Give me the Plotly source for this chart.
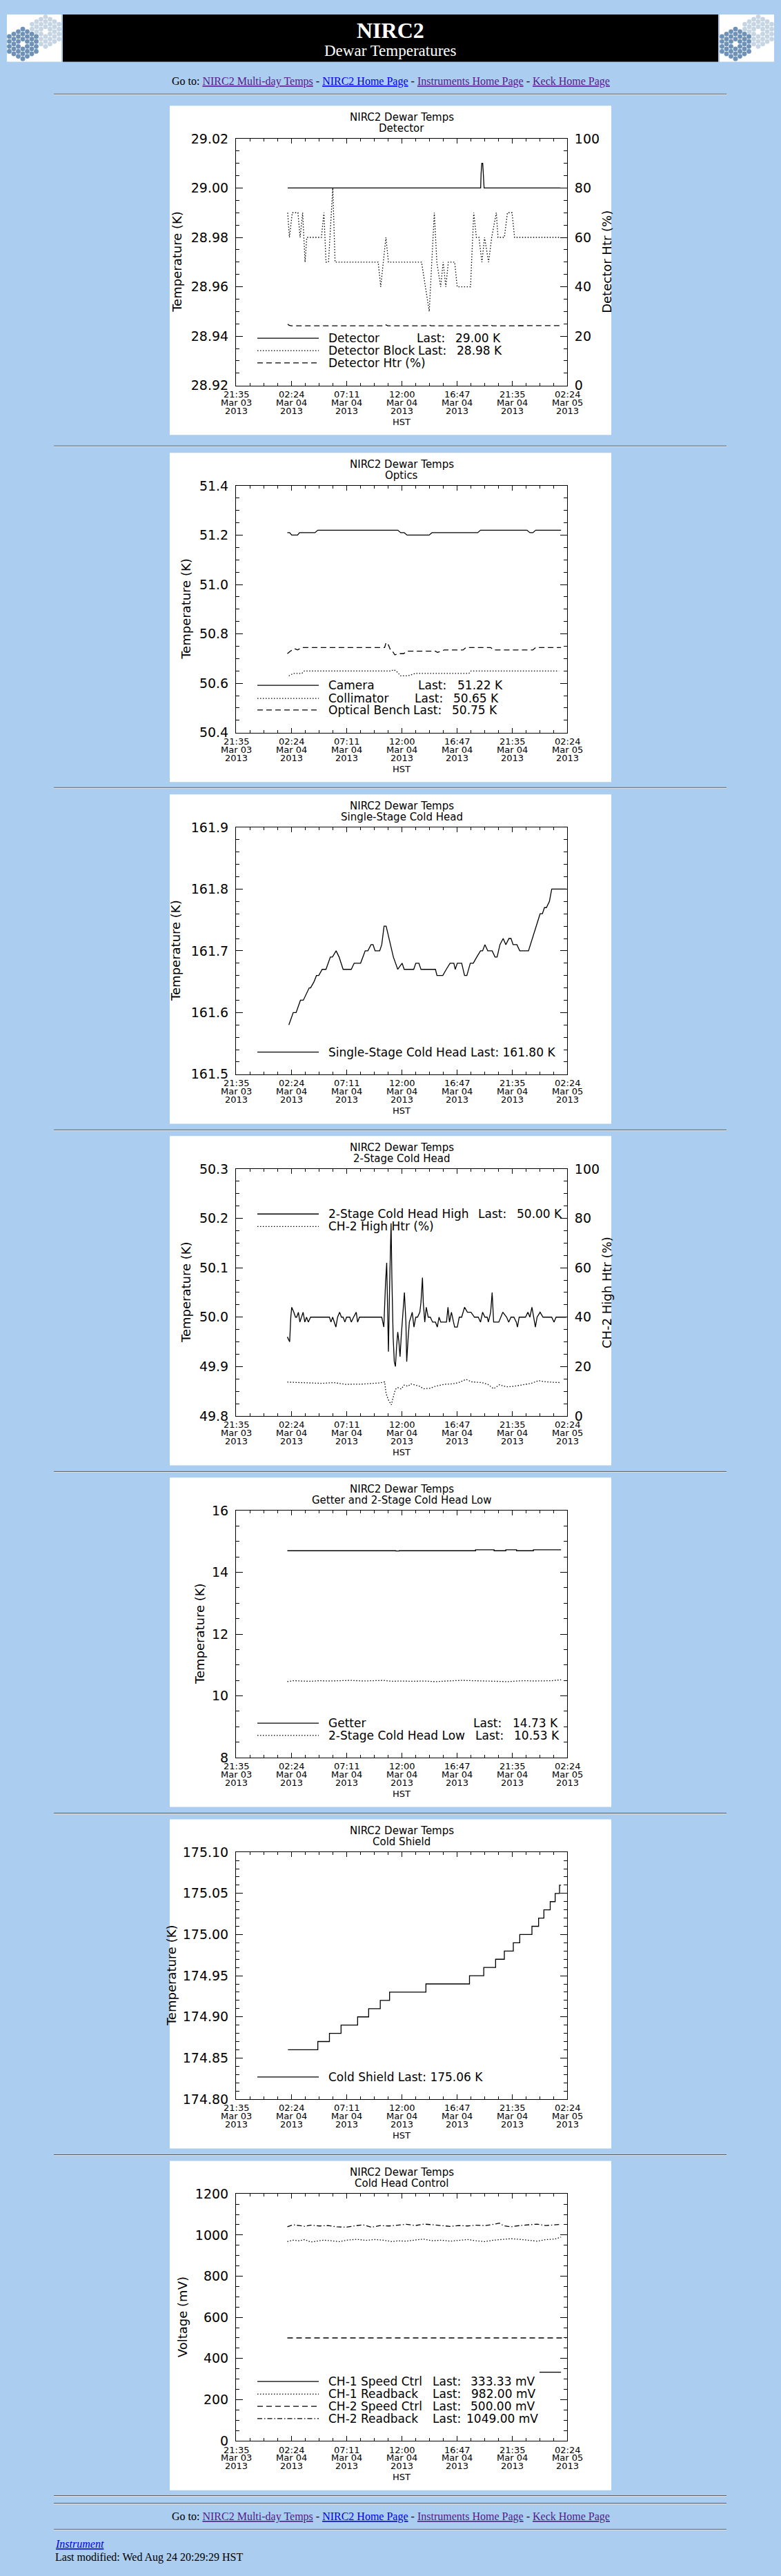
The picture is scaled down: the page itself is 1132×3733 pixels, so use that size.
import pandas as pd
import plotly.graph_objects as go

W, H = 1132, 3733
BG = "#abcdef"
SANS = "DejaVu Sans"
SERIF = "Liberation Serif"

# time axis: all series are hours counted from 21:36 HST, Mar 03 2013
START = "2013-03-03 21:36"
END = "2013-03-05 02:24"
MINOR_MS = 1.2 * 3600 * 1000

tick_times = ["2013-03-03 21:36", "2013-03-04 02:24", "2013-03-04 07:12", "2013-03-04 12:00",
              "2013-03-04 16:48", "2013-03-04 21:36", "2013-03-05 02:24"]
tick_clock = ["21:35", "02:24", "07:11", "12:00", "16:47", "21:35", "02:24"]
tick_day = ["Mar 03", "Mar 04", "Mar 04", "Mar 04", "Mar 04", "Mar 04", "Mar 05"]
tick_year = ["2013"] * 7

# --- Detector
det_hours = [4.50, 21.28, 21.32, 21.38, 21.46, 21.52, 21.58, 28.20]
det_temp = [29.000, 29.000, 29.006, 29.010, 29.010, 29.006, 29.000, 29.000]
blk_hours = [4.50, 4.65, 4.90, 5.39, 5.58, 5.80, 6.01, 6.16, 7.43, 7.65, 7.83, 8.05, 8.42, 8.62,
             12.37, 12.59, 13.04, 13.26, 16.14, 16.47, 16.81, 17.25, 17.47, 17.80, 18.02, 18.25,
             18.47, 19.02, 19.24, 20.40, 20.68, 20.91, 21.13, 21.39, 21.62, 21.97, 22.24, 22.64,
             22.79, 23.34, 23.61, 24.01, 24.23, 28.20]
blk_temp = [28.99, 28.98, 28.99, 28.99, 28.98, 28.99, 28.97, 28.98, 28.98, 28.99, 28.97, 28.97, 29.00, 28.97,
            28.97, 28.96, 28.98, 28.97, 28.97, 28.96, 28.95, 28.99, 28.97, 28.96, 28.97, 28.96,
            28.97, 28.97, 28.96, 28.96, 28.99, 28.98, 28.98, 28.97, 28.98, 28.97, 28.98, 28.99,
            28.98, 28.98, 28.99, 28.99, 28.98, 28.98]
htr_hours = [4.50, 4.62, 4.80, 12.95, 13.05, 13.20, 16.70, 16.80, 16.95, 21.20, 21.35, 21.50,
             22.00, 22.15, 22.30, 28.20]
htr_pct = [24.9, 24.4, 24.2, 24.2, 24.6, 24.2, 24.2, 24.6, 24.2, 24.2, 24.7, 24.3, 24.3, 24.6, 24.2, 24.3]

# --- Optics
cam_hours = [4.47, 4.67, 4.85, 5.36, 5.53, 6.87, 7.12, 14.07, 14.33, 14.63, 14.88, 16.80, 17.05,
             21.02, 21.27, 25.31, 25.56, 25.82, 26.07, 28.27]
cam_temp = [51.21, 51.21, 51.20, 51.20, 51.21, 51.21, 51.22, 51.22, 51.21, 51.21, 51.20, 51.20, 51.21,
            51.21, 51.22, 51.22, 51.21, 51.21, 51.22, 51.22]
col_hours = [4.60, 4.98, 5.73, 5.94, 13.51, 13.69, 13.94, 14.32, 14.95, 15.59, 20.26, 20.44, 28.09]
col_temp = [50.63, 50.64, 50.64, 50.65, 50.65, 50.655, 50.65, 50.63, 50.63, 50.64, 50.64, 50.65, 50.65]
ob_hours = [4.47, 4.72, 5.10, 5.36, 5.73, 12.93, 13.06, 13.26, 13.44, 13.61, 13.82, 14.07, 14.58,
            14.83, 17.35, 17.53, 18.11, 19.75, 20.01, 22.15, 22.41, 25.82, 26.07, 28.27]
ob_temp = [50.72, 50.73, 50.74, 50.735, 50.745, 50.745, 50.765, 50.755, 50.735, 50.73, 50.715, 50.72,
           50.72, 50.73, 50.73, 50.725, 50.735, 50.735, 50.745, 50.745, 50.735, 50.735, 50.745, 50.745]

# --- Single-stage cold head
ss_hours = [4.60, 4.98, 5.23, 5.61, 5.86, 6.11, 6.37, 6.49, 6.79, 7.00,
            7.20, 7.50, 7.83, 8.21, 8.39, 8.71, 8.97, 9.32, 10.03, 10.28,
            10.84, 11.24, 11.47, 11.75, 11.92, 12.10, 12.50, 12.68, 12.88, 13.06,
            13.31, 13.69, 14.07, 14.45, 14.63, 15.46, 15.64, 15.91, 16.09, 17.35,
            17.48, 17.99, 18.29, 18.62, 18.95, 19.07, 19.25, 19.63, 19.88, 20.08,
            20.38, 20.64, 20.94, 21.27, 21.45, 21.65, 21.90, 22.28, 22.53, 22.71,
            22.96, 23.24, 23.47, 23.74, 23.92, 24.10, 24.43, 24.68, 25.44, 25.77,
            26.14, 26.45, 26.65, 26.83, 27.00, 27.26, 27.46, 28.22, 28.72]
ss_temp = [161.58, 161.60, 161.60, 161.62, 161.62, 161.63, 161.64, 161.64, 161.65, 161.66,
           161.66, 161.67, 161.67, 161.69, 161.69, 161.70, 161.69, 161.67, 161.67, 161.68,
           161.68, 161.70, 161.70, 161.71, 161.71, 161.70, 161.70, 161.71, 161.74, 161.74,
           161.72, 161.69, 161.67, 161.68, 161.67, 161.67, 161.68, 161.68, 161.67, 161.67,
           161.66, 161.66, 161.67, 161.68, 161.68, 161.67, 161.68, 161.68, 161.66, 161.66,
           161.68, 161.68, 161.69, 161.70, 161.70, 161.71, 161.70, 161.70, 161.69, 161.69,
           161.71, 161.72, 161.71, 161.72, 161.72, 161.71, 161.71, 161.70, 161.70, 161.72,
           161.74, 161.76, 161.76, 161.77, 161.77, 161.78, 161.80, 161.80, 161.80]

# --- 2-stage cold head
ch2_hours = [4.47, 4.67, 4.77, 4.85, 5.03, 5.18, 5.28, 5.43, 5.56, 5.68,
             5.84, 5.99, 6.14, 6.29, 6.49, 8.13, 8.26, 8.41, 8.56, 8.69,
             8.84, 9.02, 9.17, 9.32, 9.47, 9.62, 9.90, 10.03, 10.23, 10.46,
             10.58, 10.74, 12.68, 12.86, 13.01, 13.11, 13.21, 13.26, 13.36, 13.49,
             13.56, 13.67, 13.77, 13.87, 13.97, 14.07, 14.17, 14.27, 14.37, 14.52,
             14.65, 14.78, 14.85, 14.98, 15.08, 15.21, 15.33, 15.48, 15.64, 15.79,
             15.99, 16.09, 16.22, 16.29, 16.42, 16.55, 16.72, 16.90, 17.10, 17.35,
             17.51, 17.66, 17.81, 18.31, 18.44, 18.57, 18.74, 18.92, 19.02, 19.25,
             19.42, 19.63, 19.88, 20.13, 20.44, 20.74, 21.07, 21.27, 21.45, 21.65,
             21.85, 21.95, 22.15, 22.28, 22.41, 22.86, 23.21, 23.54, 23.72, 23.92,
             24.17, 24.38, 24.48, 24.63, 25.18, 25.39, 25.56, 25.74, 25.89, 26.04,
             26.19, 26.45, 26.70, 27.46, 27.66, 27.84, 28.22, 28.72]
ch2_temp = [49.96, 49.95, 50.00, 50.02, 50.01, 50.00, 50.00, 50.01, 49.99, 50.00,
            50.01, 49.99, 50.00, 49.99, 50.00, 50.00, 49.99, 50.00, 49.99, 49.98,
            50.00, 50.01, 50.00, 50.00, 49.99, 50.00, 50.00, 49.99, 50.00, 50.01,
            49.99, 50.00, 50.00, 49.98, 50.07, 50.11, 49.99, 49.93, 50.06, 50.19,
            50.08, 49.96, 49.91, 49.90, 49.94, 49.97, 49.95, 49.92, 49.96, 50.01,
            50.05, 49.99, 49.91, 49.96, 49.99, 50.00, 50.01, 49.98, 50.00, 50.00,
            50.01, 50.03, 50.08, 50.03, 49.99, 50.02, 50.00, 50.00, 49.99, 49.99,
            49.98, 50.00, 49.99, 49.99, 50.02, 49.99, 50.01, 49.99, 49.98, 49.98,
            50.00, 50.00, 50.02, 50.01, 50.01, 50.00, 50.00, 49.99, 50.01, 50.00,
            50.00, 49.99, 50.01, 50.05, 49.99, 49.99, 50.01, 50.00, 49.99, 50.00,
            50.00, 49.99, 49.98, 50.00, 50.00, 50.01, 50.00, 50.02, 50.00, 49.98,
            50.00, 50.01, 50.00, 50.00, 49.99, 50.00, 50.00, 50.00]
ch2htr_hours = [4.47, 5.48, 6.49, 7.50, 8.51, 9.52, 11.04, 12.55, 12.93, 13.06, 13.26, 13.51, 13.67,
                13.87, 14.07, 14.37, 14.63, 14.95, 15.21, 15.59, 15.97, 16.34, 16.85, 17.35, 18.11,
                18.87, 19.37, 20.01, 20.51, 21.40, 21.90, 22.41, 22.91, 23.54, 24.17, 24.93, 25.69,
                26.32, 26.95, 28.22]
ch2htr_pct = [13.7, 13.6, 13.3, 13.2, 13.5, 12.8, 12.9, 13.4, 13.8, 9.0, 6.5, 4.5, 7.5,
              10.8, 11.5, 10.9, 12.5, 12.0, 13.0, 12.5, 12.0, 11.0, 11.2, 12.0, 12.8,
              13.0, 13.5, 14.8, 13.8, 13.5, 12.8, 11.0, 12.6, 11.8, 12.0, 12.6, 13.2,
              14.3, 13.8, 13.5]

# --- Getter and 2-stage low
getter_hours = [4.47, 13.90, 14.20, 20.84, 22.45, 23.47, 24.40, 25.87, 28.27]
getter_temp = [14.70, 14.69, 14.70, 14.73, 14.70, 14.73, 14.70, 14.73, 14.73]
chlow_hours = [4.47, 4.98, 5.73, 6.49, 7.25, 8.01, 9.02, 10.03, 11.04, 12.05, 12.81, 13.56, 14.32,
               15.33, 16.34, 17.35, 18.11, 18.87, 19.63, 20.38, 21.14, 21.90, 22.91, 23.67, 24.43,
               25.18, 25.94, 26.70, 27.46, 28.27]
chlow_temp = [10.46, 10.49, 10.48, 10.47, 10.49, 10.48, 10.49, 10.50, 10.48, 10.49, 10.50, 10.47, 10.48,
              10.47, 10.48, 10.46, 10.48, 10.49, 10.50, 10.49, 10.48, 10.47, 10.47, 10.46, 10.48,
              10.49, 10.48, 10.48, 10.49, 10.52]

# --- Cold shield (step starts)
shield_hours = [4.52, 7.12, 8.13, 9.14, 10.58, 11.54, 12.55, 13.36, 16.52, 20.31, 21.55, 22.58,
                23.34, 24.12, 24.68, 25.74, 26.32, 26.78, 27.33, 27.76, 28.14, 28.27]
shield_temp = [174.86, 174.87, 174.88, 174.89, 174.90, 174.91, 174.92, 174.93, 174.94, 174.95,
               174.96, 174.97, 174.98, 174.99, 175.00, 175.01, 175.02, 175.03, 175.04, 175.05,
               175.06, 175.06]

# --- Cold head control
ch1ctrl_hours = [26.40, 28.27]
ch1ctrl_mv = [333.33, 333.33]
ch2ctrl_hours = [4.47, 28.72]
ch2ctrl_mv = [500.0, 500.0]
ch1rb_hours = [4.47, 4.98, 5.48, 5.99, 6.49, 7.00, 7.63, 8.26, 9.02, 9.78, 10.53, 11.29, 12.05,
               12.81, 13.56, 14.07, 14.83, 15.59, 16.34, 17.10, 17.86, 18.62, 19.37, 20.13, 20.89,
               21.65, 22.41, 23.16, 23.92, 24.68, 25.44, 26.19, 26.95, 27.71, 28.27]
ch1rb_mv = [968, 975, 972, 978, 966, 970, 975, 972, 968, 976, 979, 974, 978,
            975, 968, 972, 970, 976, 980, 972, 975, 970, 973, 978, 972,
            968, 975, 978, 982, 979, 975, 970, 978, 980, 990]
ch2rb_hours = [4.47, 4.98, 5.48, 5.99, 6.49, 7.25, 8.01, 8.77, 9.52, 10.28, 11.04, 11.80, 12.55,
               13.31, 14.07, 14.83, 15.59, 16.34, 17.10, 17.86, 18.62, 19.37, 20.13, 20.89, 21.65,
               22.41, 22.91, 23.29, 23.92, 24.68, 25.44, 26.19, 26.95, 27.71, 28.27]
ch2rb_mv = [1040, 1050, 1046, 1042, 1048, 1044, 1046, 1040, 1038, 1045, 1050, 1038, 1046,
            1044, 1048, 1052, 1046, 1053, 1050, 1046, 1042, 1046, 1044, 1048, 1046,
            1052, 1058, 1045, 1040, 1046, 1050, 1053, 1046, 1048, 1052]

goto_links = ["NIRC2 Multi-day Temps", "NIRC2 Home Page", "Instruments Home Page", "Keck Home Page"]
goto_colors = ["#551a8b", "#0000ee", "#551a8b", "#551a8b"]

# page geometry (px)
PANEL_TOP = [143, 649, 1147, 1645, 2143, 2641, 3139]
HR_ROWS = [126, 639, 1137, 1636, 2134, 2632, 3130, 3627, 3638, 3676]
PLOT_L, PLOT_R = 342, 822
LEG_SIZE = 17

DOT = "1.5px,2.5px"
DASH = "8px,5px"
DASHDOT = "7px,3px,1.5px,3px"


def px_x(v):
    return v / W


def px_y(v):
    return 1 - v / H


def when(hours):
    t0 = pd.Timestamp(START)
    return [t0 + pd.Timedelta(hours=h) for h in hours]


panels = [
    dict(sub="Detector", yr=(28.92, 29.02), dt=0.02, mn=0.005, fmt=".2f",
         ytitle="Temperature (K)", tx=257, right=("Detector Htr (%)", 880),
         lines=[(det_hours, det_temp, "solid", False, "linear"),
                (blk_hours, blk_temp, DOT, False, "linear"),
                (htr_hours, htr_pct, DASH, True, "linear")],
         legend=[("solid", "Detector", "29.00 K", 602, 658, 339),
                 (DOT, "Detector Block", "28.98 K", 604, 660, 357),
                 (DASH, "Detector Htr (%)", None, 0, 0, 375)]),
    dict(sub="Optics", yr=(50.4, 51.4), dt=0.2, mn=0.05, fmt=".1f",
         ytitle="Temperature (K)", tx=270, right=None,
         lines=[(cam_hours, cam_temp, "solid", False, "linear"),
                (col_hours, col_temp, DOT, False, "linear"),
                (ob_hours, ob_temp, DASH, False, "linear")],
         legend=[("solid", "Camera", "51.22 K", 604, 661, 339),
                 (DOT, "Collimator", "50.65 K", 599, 655, 358),
                 (DASH, "Optical Bench", "50.75 K", 597, 653, 375)]),
    dict(sub="Single-Stage Cold Head", yr=(161.5, 161.9), dt=0.1, mn=0.02, fmt=".1f",
         ytitle="Temperature (K)", tx=255, right=None,
         lines=[(ss_hours, ss_temp, "solid", False, "linear")],
         legend=[("solid", "Single-Stage Cold Head Last: 161.80 K", None, 0, 0, 375.5)]),
    dict(sub="2-Stage Cold Head", yr=(49.8, 50.3), dt=0.1, mn=0.025, fmt=".1f",
         ytitle="Temperature (K)", tx=270, right=("CH-2 High Htr (%)", 880),
         lines=[(ch2_hours, ch2_temp, "solid", False, "linear"),
                (ch2htr_hours, ch2htr_pct, DOT, True, "linear")],
         legend=[("solid", "2-Stage Cold Head High", "50.00 K", 691, 747, 113.6),
                 (DOT, "CH-2 High Htr (%)", None, 0, 0, 131.9)]),
    dict(sub="Getter and 2-Stage Cold Head Low", yr=(8, 16), dt=2, mn=0.5, fmt="d",
         ytitle="Temperature (K)", tx=289, right=None,
         lines=[(getter_hours, getter_temp, "solid", False, "hv"),
                (chlow_hours, chlow_temp, DOT, False, "linear")],
         legend=[("solid", "Getter", "14.73 K", 684, 741, 357.8),
                 (DOT, "2-Stage Cold Head Low", "10.53 K", 687, 743, 375.7)]),
    dict(sub="Cold Shield", yr=(174.8, 175.1), dt=0.05, mn=0.01, fmt=".2f",
         ytitle="Temperature (K)", tx=248, right=None,
         lines=[(shield_hours, shield_temp, "solid", False, "hv")],
         legend=[("solid", "Cold Shield Last: 175.06 K", None, 0, 0, 375.7)]),
    dict(sub="Cold Head Control", yr=(0, 1200), dt=200, mn=50, fmt="d",
         ytitle="Voltage (mV)", tx=264, right=None,
         lines=[(ch1ctrl_hours, ch1ctrl_mv, "solid", False, "linear"),
                (ch1rb_hours, ch1rb_mv, DOT, False, "linear"),
                (ch2ctrl_hours, ch2ctrl_mv, DASH, False, "linear"),
                (ch2rb_hours, ch2rb_mv, DASHDOT, False, "linear")],
         legend=[("solid", "CH-1 Speed Ctrl", "333.33 mV", 625, 680, 321.5),
                 (DOT, "CH-1 Readback", "982.00 mV", 625, 681, 339.8),
                 (DASH, "CH-2 Speed Ctrl", "500.00 mV", 625, 680, 357.7),
                 (DASHDOT, "CH-2 Readback", "1049.00 mV", 625, 674, 375.6)]),
]

fig = go.Figure()
shapes, notes, axes = [], [], {}


def rect(x0, y0, x1, y1, color, layer="below"):
    return dict(type="rect", xref="paper", yref="paper", x0=px_x(x0), x1=px_x(x1),
                y0=px_y(y1), y1=px_y(y0), fillcolor=color, line=dict(width=0), layer=layer)


def hline(x0, x1, y, color, width=1, dash="solid"):
    return dict(type="line", xref="paper", yref="paper", x0=px_x(x0), x1=px_x(x1),
                y0=px_y(y), y1=px_y(y), line=dict(color=color, width=width, dash=dash))


def note(text, x, y, size, xanchor="center", color="black", family=SANS, **kw):
    d = dict(text=text, x=px_x(x), y=px_y(y), xref="paper", yref="paper", showarrow=False,
             xanchor=xanchor, yanchor="middle", font=dict(family=family, size=size, color=color))
    d.update(kw)
    return d


def honeycomb(cx, cy, color):
    out = []
    for c in range(-3, 4):
        n = 7 - abs(c)
        for r in range(n):
            if c == 0 and r == 3:
                continue
            x = cx + c * 6.5
            y = cy + (r - (n - 1) / 2) * 7.2
            out.append(dict(type="circle", xref="paper", yref="paper",
                            x0=px_x(x - 3.4), x1=px_x(x + 3.4), y0=px_y(y + 3.4), y1=px_y(y - 3.4),
                            fillcolor=color, line=dict(width=0), layer="below"))
    return out


# header banner and logos
for off in (0, 1033):
    shapes.append(rect(10 + off, 10, 89 + off, 79, "white"))
    shapes += honeycomb(66 + off, 35, "#c6d5e4")
    shapes += honeycomb(33 + off, 53, "#6d91b7")
shapes.append(rect(91, 10, 1041, 79, "black"))
notes.append(note("<b>NIRC2</b>", 566, 33, 32, color="white", family=SERIF))
notes.append(note("Dewar Temperatures", 566, 63, 23, color="white", family=SERIF))

goto = "Go to: " + " - ".join(
    "<span style='color:%s;text-decoration:underline'>%s</span>" % (c, t)
    for t, c in zip(goto_links, goto_colors))
notes.append(note(goto, 566, 108, 16, family=SERIF))
notes.append(note(goto, 566, 3658, 16, family=SERIF))
notes.append(note("<i><span style='color:#0000ee;text-decoration:underline'>Instrument</span></i>",
                  78, 3697, 16, xanchor="left", family=SERIF))
notes.append(note("Last modified: Wed Aug 24 20:29:29 HST", 78, 3717, 16, xanchor="left", family=SERIF))

for y in HR_ROWS:
    shapes.append(hline(78, 1053, y, "#505050"))
    shapes.append(hline(78, 1053, y + 1, "#e4e4e4"))

right_idx = 8
for i, p in enumerate(panels, start=1):
    T = PANEL_TOP[i - 1]
    sfx = "" if i == 1 else str(i)
    xref, yref = "x" + sfx, "y" + sfx
    shapes.append(rect(246, T, 886, T + 480, "white"))

    axes["xaxis" + sfx] = dict(
        domain=[px_x(PLOT_L), px_x(PLOT_R)], anchor=yref, type="date", range=[START, END],
        tickmode="array", tickvals=tick_times, showticklabels=False,
        ticks="inside", ticklen=7, tickwidth=1, tickcolor="black",
        showline=True, linecolor="black", linewidth=1, mirror="ticks",
        showgrid=False, zeroline=False,
        minor=dict(tickmode="linear", tick0=START, dtick=MINOR_MS, ticks="inside",
                   ticklen=4, tickwidth=1, tickcolor="black", showgrid=False))
    lo, hi = p["yr"]
    eps = (hi - lo) * 1e-6
    dom = [px_y(T + 408), px_y(T + 48)]
    axes["yaxis" + sfx] = dict(
        domain=dom, anchor=xref, range=[lo - eps, hi + eps], tickmode="linear", tick0=lo,
        dtick=p["dt"], tickformat=p["fmt"], ticks="inside", ticklen=10, tickwidth=1,
        tickcolor="black", showline=True, linecolor="black", linewidth=1,
        mirror=False if p["right"] else "ticks", showgrid=False, zeroline=False,
        tickfont=dict(family=SANS, size=19, color="black"), ticklabelstandoff=6,
        minor=dict(tickmode="linear", tick0=lo, dtick=p["mn"], ticks="inside", ticklen=5,
                   tickwidth=1, tickcolor="black", showgrid=False))

    rref = None
    if p["right"]:
        rref = "y%d" % right_idx
        axes["yaxis%d" % right_idx] = dict(
            overlaying=yref, side="right", anchor=xref, range=[-1e-4, 100 + 1e-4],
            tickmode="linear", tick0=0, dtick=20, tickformat="d", ticks="inside", ticklen=10,
            tickwidth=1, tickcolor="black", showline=True, linecolor="black", linewidth=1,
            showgrid=False, zeroline=False, tickfont=dict(family=SANS, size=19, color="black"),
            ticklabelstandoff=6,
            minor=dict(tickmode="linear", tick0=0, dtick=5, ticks="inside", ticklen=5,
                       tickwidth=1, tickcolor="black", showgrid=False))
        right_idx += 1
        notes.append(note(p["right"][0], p["right"][1], T + 228, 18, textangle=-90))

    for hours, vals, dash, on_right, shape in p["lines"]:
        fig.add_trace(go.Scatter(
            x=when(hours), y=vals, mode="lines",
            line=dict(color="black", width=1.3, dash=dash, shape=shape),
            xaxis=xref, yaxis=rref if on_right else yref, hoverinfo="skip", showlegend=False))

    # titles
    notes.append(note("NIRC2 Dewar Temps", 582, T + 17, 15))
    notes.append(note(p["sub"], 582, T + 33, 15))
    notes.append(note(p["ytitle"], p["tx"], T + 228, 18, textangle=-90))
    notes.append(note("HST", 582, T + 461, 13))

    # time tick labels, three stacked lines
    for rows, off in ((tick_clock, 421), (tick_day, 433), (tick_year, 445)):
        for t, txt in zip(tick_times, rows):
            notes.append(dict(text=txt, x=t, xref=xref, y=px_y(T + off), yref="paper",
                              showarrow=False, xanchor="center", yanchor="middle",
                              font=dict(family=SANS, size=13, color="black")))

    # in-plot legend
    for dash, name, last, lx, vx, off in p["legend"]:
        shapes.append(hline(373, 462, T + off, "black", width=1.3, dash=dash))
        notes.append(note(name, 474, T + off, LEG_SIZE, xanchor="left"))
        if last:
            notes.append(note("Last:", lx, T + off, LEG_SIZE, xanchor="left"))
            notes.append(note(last, vx, T + off, LEG_SIZE, xanchor="left"))

fig.update_layout(
    width=W, height=H, margin=dict(l=0, r=0, t=0, b=0),
    paper_bgcolor=BG, plot_bgcolor="white", showlegend=False, hovermode=False,
    shapes=shapes, annotations=notes, **axes)

fig.write_html("out.html", config={"displayModeBar": False},
               post_script="document.body.style.margin='0';document.body.style.background='#abcdef';")
